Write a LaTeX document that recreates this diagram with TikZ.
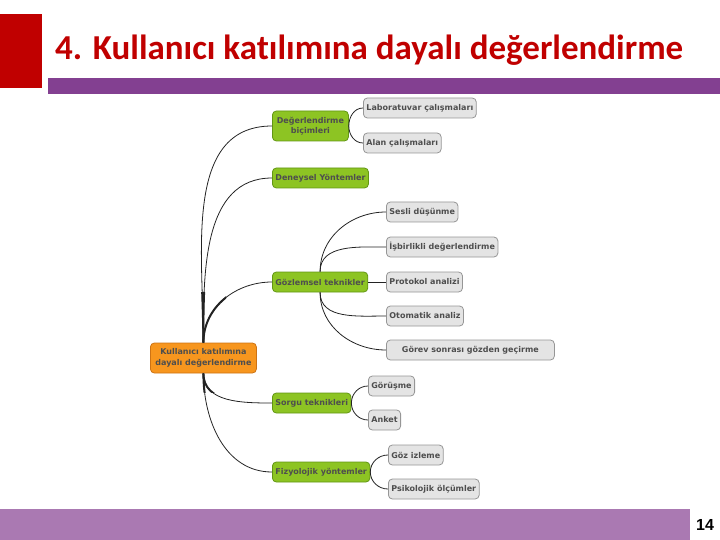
\documentclass[tikz,border=0pt]{standalone}
\usepackage{fontspec}
\newfontfamily\titlefont[Ligatures=NoCommon]{Carlito}
\newfontfamily\mapfont{DejaVu Sans}
\newfontfamily\numfont{Liberation Sans}
\usetikzlibrary{positioning}
\definecolor{titlered}{RGB}{192,0,0}
\definecolor{barpurple}{RGB}{131,64,145}
\definecolor{footpurple}{RGB}{170,121,178}
\definecolor{rootorange}{RGB}{247,150,30}
\definecolor{rootedge}{RGB}{205,115,20}
\definecolor{catgreen}{RGB}{141,196,35}
\definecolor{catedge}{RGB}{98,150,20}
\definecolor{leafgray}{RGB}{228,228,228}
\definecolor{leafedge}{RGB}{150,150,150}
\definecolor{nodetext}{RGB}{78,78,78}
\definecolor{linkcol}{RGB}{35,35,35}
\tikzset{
  mapbox/.style={rounded corners=4pt, align=center, text=nodetext,
                 font=\mapfont\bfseries\fontsize{8}{10.5}\selectfont,
                 inner xsep=3pt, inner ysep=2pt, anchor=west, line width=0.8pt},
  rootbox/.style={mapbox, fill=rootorange, draw=rootedge,
                  minimum width=106pt, minimum height=30pt},
  catbox/.style={mapbox, fill=catgreen, draw=catedge, minimum height=20pt},
  leafbox/.style={mapbox, fill=leafgray, draw=leafedge, minimum height=20pt},
  branch/.style={draw=linkcol, line width=0.8pt},
}

\begin{document}
\begin{tikzpicture}[x=1pt,y=-1pt]
\useasboundingbox (0,0) rectangle (720,540);

% ── Slide frame ───────────────────────────────────────────────────────────────
\fill[titlered] (0,14) rectangle (42,88);
\fill[barpurple] (48,78) rectangle (720,94);
\fill[footpurple] (0,509) rectangle (690,540);
\node[anchor=base west, font=\titlefont\bfseries\fontsize{35}{40}\selectfont,
      text=titlered, inner sep=0pt] (title) at (55,60)
      {4. Kullanıcı katılımına dayalı değerlendirme};
\node[font=\numfont\bfseries\fontsize{16}{18}\selectfont, inner sep=0pt]
      (pageno) at (705,525) {14};

% ── Root and main branches ────────────────────────────────────────────────────
\node[rootbox] (root) at (150,358) {Kullanıcı katılımına\\dayalı değerlendirme};

\node[catbox, minimum width=76pt, minimum height=30pt] (bicim) at (272,126)
      {Değerlendirme\\biçimleri};
\node[catbox] (deney) at (272,178) {Deneysel Yöntemler};
\node[catbox] (gozlem) at (272,282) {Gözlemsel teknikler};
\node[catbox] (sorgu) at (272,403) {Sorgu teknikleri};
\node[catbox] (fizyo) at (272,472) {Fizyolojik yöntemler};

% ── Leaves ────────────────────────────────────────────────────────────────────
\node[leafbox] (lab) at (363,108) {Laboratuvar çalışmaları};
\node[leafbox] (alan) at (363,143) {Alan çalışmaları};

\node[leafbox] (sesli) at (386,212) {Sesli düşünme};
\node[leafbox] (isbir) at (386,247) {İşbirlikli değerlendirme};
\node[leafbox] (proto) at (386,282) {Protokol analizi};
\node[leafbox] (otom) at (386,316) {Otomatik analiz};
\node[leafbox, minimum width=168pt] (gorev) at (386,350)
      {Görev sonrası gözden geçirme};

\node[leafbox] (gorus) at (368,386) {Görüşme};
\node[leafbox] (anket) at (368,420) {Anket};

\node[leafbox] (gozizl) at (388,455) {Göz izleme};
\node[leafbox] (psiko) at (388,489) {Psikolojik ölçümler};

% ── Connectors ────────────────────────────────────────────────────────────────
\foreach \c in {bicim,deney,gozlem}
  \draw[branch] (root.north) to[out=90,in=180] (\c.west);
\foreach \c in {sorgu,fizyo}
  \draw[branch] (root.south) to[out=-90,in=180] (\c.west);
% thicker trunk near the root
\begin{scope}
  \clip (180,292) rectangle (226,392);
  \foreach \c in {bicim,deney,gozlem}
    \draw[branch, line width=2pt] (root.north) to[out=90,in=180] (\c.west);
  \foreach \c in {sorgu,fizyo}
    \draw[branch, line width=2pt] (root.south) to[out=-90,in=180] (\c.west);
\end{scope}

\draw[branch] (bicim.east) to[out=90,in=180] (lab.west);
\draw[branch] (bicim.east) to[out=-90,in=180] (alan.west);

\foreach \c in {sesli,isbir}
  \draw[branch] (gozlem.north) to[out=90,in=180] (\c.west);
\draw[branch] (gozlem.east) -- (proto.west);
\foreach \c in {otom,gorev}
  \draw[branch] (gozlem.south) to[out=-90,in=180] (\c.west);

\draw[branch] (sorgu.east) to[out=90,in=180] (gorus.west);
\draw[branch] (sorgu.east) to[out=-90,in=180] (anket.west);

\draw[branch] (fizyo.east) to[out=90,in=180] (gozizl.west);
\draw[branch] (fizyo.east) to[out=-90,in=180] (psiko.west);

\end{tikzpicture}
\end{document}
